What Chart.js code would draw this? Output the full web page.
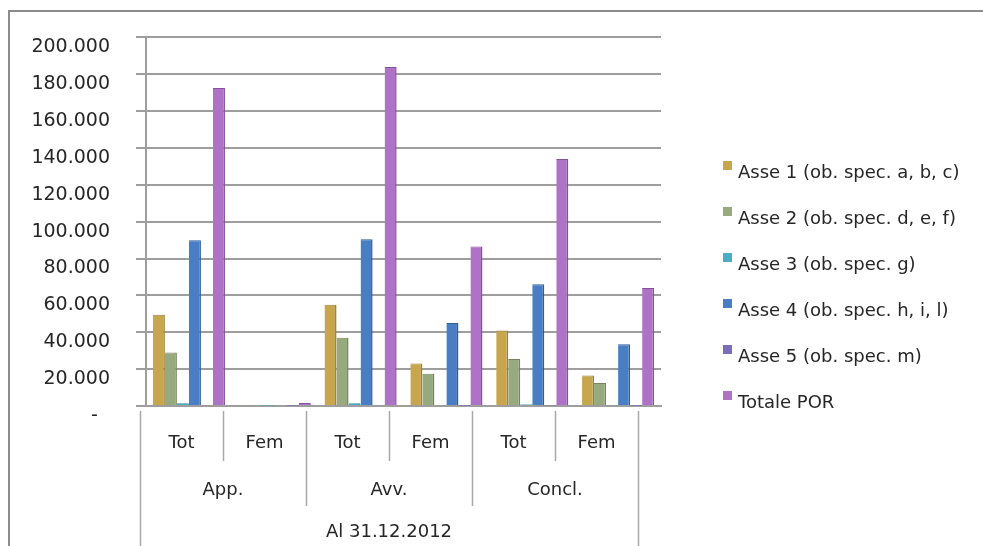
<!DOCTYPE html>
<html>
<head>
<meta charset="utf-8">
<script src="https://cdn.jsdelivr.net/npm/chart.js@4/dist/chart.umd.min.js"></script>
<style>
  html, body { margin: 0; padding: 0; background: #ffffff; }
  #wrap { width: 983px; height: 546px; position: relative; }
</style>
</head>
<body>
<div id="wrap"><canvas id="c" width="983" height="546"></canvas></div>
<script>
// ---- Data ----
const categories = ['Tot', 'Fem', 'Tot', 'Fem', 'Tot', 'Fem'];
const groups = ['App.', 'Avv.', 'Concl.'];
const period = 'Al 31.12.2012';
const seriesNames = [
  'Asse 1 (ob. spec. a, b, c)',
  'Asse 2 (ob. spec. d, e, f)',
  'Asse 3 (ob. spec. g)',
  'Asse 4 (ob. spec. h, i, l)',
  'Asse 5 (ob. spec. m)',
  'Totale POR'
];
const asse1 = [49500, 400, 55000, 23000, 41000, 16500];
const asse2 = [29000, 300, 37000, 17500, 25500, 12500];
const asse3 = [1500, 200, 1500, 600, 1000, 400];
const asse4 = [90000, 500, 90500, 45000, 66000, 33500];
const asse5 = [400, 200, 400, 200, 300, 200];
const totale = [172500, 1600, 184000, 86500, 134000, 64000];
const yTicks = [0, 20000, 40000, 60000, 80000, 100000, 120000, 140000, 160000, 180000, 200000];

const colors = ['#C8A64E', '#97AA7E', '#4BACC6', '#4A7EC4', '#7D6CB9', '#AE72C6'];
const borders = ['#9C7F33', '#73855C', '#2F8AA3', '#2F5D99', '#5B4C92', '#85509C'];
const FONT = '"DejaVu Sans", sans-serif';
const TXT = '#262626';
const GRID = '#9E9E9E';

const seriesValues = [asse1, asse2, asse3, asse4, asse5, totale];

function fmt(v) {
  if (v === 0) return '-  ';
  return String(v).replace(/\B(?=(\d{3})+(?!\d))/g, '.');
}

const frame = {
  id: 'frame',
  beforeDraw(chart) {
    const ctx = chart.ctx;
    ctx.save();
    ctx.fillStyle = '#ffffff';
    ctx.fillRect(0, 0, chart.width, chart.height);
    ctx.strokeStyle = '#8C8C8C';
    ctx.lineWidth = 2;
    ctx.beginPath();
    ctx.moveTo(9, chart.height);
    ctx.lineTo(9, 11);
    ctx.lineTo(chart.width, 11);
    ctx.stroke();
    ctx.restore();
  }
};

const LABEL_LEFT = 140, LABEL_RIGHT = 638;
const catAxis = {
  id: 'catAxis',
  afterDraw(chart) {
    const xs = chart.scales.x;
    const ctx = chart.ctx;
    const n = categories.length;
    const map = (px) => LABEL_LEFT + (px - xs.left) * (LABEL_RIGHT - LABEL_LEFT) / (xs.right - xs.left);
    const bound = (k) => map(xs.left + k * (xs.right - xs.left) / n);
    ctx.save();
    ctx.strokeStyle = '#A8A8A8';
    ctx.lineWidth = 1.5;
    for (let k = 0; k <= n; k++) {
      let yEnd = 461;
      if (k === 0 || k === n) yEnd = chart.height;
      else if (k % 2 === 0) yEnd = 506;
      const x = Math.round(bound(k)) + 0.5;
      ctx.beginPath();
      ctx.moveTo(x, 411);
      ctx.lineTo(x, yEnd);
      ctx.stroke();
    }
    ctx.fillStyle = TXT;
    ctx.font = '18px ' + FONT;
    ctx.textAlign = 'center';
    ctx.textBaseline = 'middle';
    categories.forEach((c, i) => {
      ctx.fillText(c, map(xs.getPixelForValue(i)), 443);
    });
    groups.forEach((g, j) => {
      ctx.fillText(g, (bound(2 * j) + bound(2 * j + 2)) / 2, 490);
    });
    ctx.fillText(period, (bound(0) + bound(n)) / 2, 532);
    ctx.restore();
  }
};

const legendPlugin = {
  id: 'customLegend',
  afterDraw(chart) {
    const ctx = chart.ctx;
    ctx.save();
    ctx.font = '18px ' + FONT;
    ctx.textBaseline = 'middle';
    ctx.textAlign = 'left';
    chart.data.datasets.forEach((ds, i) => {
      const y = 173 + i * 46;
      ctx.fillStyle = ds.backgroundColor;
      ctx.fillRect(723, y - 12, 9, 9);
      ctx.fillStyle = TXT;
      ctx.fillText(ds.label, 738, y);
    });
    ctx.restore();
  }
};

new Chart(document.getElementById('c'), {
  type: 'bar',
  data: {
    labels: categories,
    datasets: seriesNames.map((name, i) => ({
      label: name,
      data: seriesValues[i],
      backgroundColor: colors[i],
      borderColor: borders[i],
      borderWidth: { right: 1.5, top: 1, left: 0, bottom: 0 },
      categoryPercentage: 0.84,
      barPercentage: 1.0
    }))
  },
  options: {
    responsive: false,
    animation: false,
    devicePixelRatio: 1,
    layout: { padding: { top: 34, left: 0, right: 322, bottom: 0 } },
    plugins: {
      legend: { display: false },
      tooltip: { enabled: false },
      title: { display: false }
    },
    scales: {
      x: {
        type: 'category',
        ticks: { display: false },
        grid: { display: false },
        border: { display: true, color: GRID, width: 2 },
        afterFit(scale) { scale.height = 140; }
      },
      y: {
        min: 0,
        max: 200000,
        afterBuildTicks(scale) { scale.ticks = yTicks.map(v => ({ value: v })); },
        ticks: {
          callback: (v) => fmt(v),
          color: TXT,
          font: { family: FONT, size: 19 },
          padding: 26,
          labelOffset: 10
        },
        grid: { color: GRID, lineWidth: 2, tickLength: 10, drawTicks: true },
        border: { display: true, color: GRID, width: 2 },
        afterFit(scale) { scale.width = 146; }
      }
    }
  },
  plugins: [frame, catAxis, legendPlugin]
});
</script>
</body>
</html>
